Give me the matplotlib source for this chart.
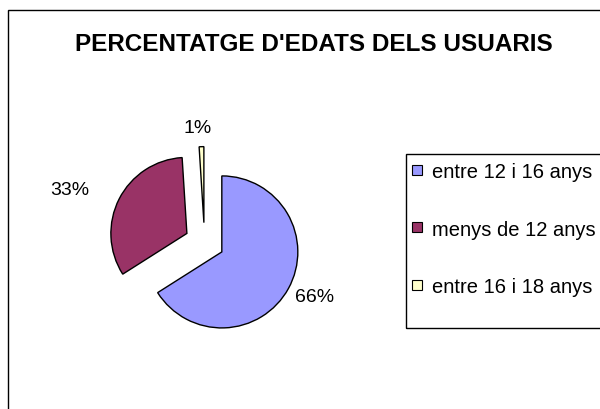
import matplotlib
matplotlib.use('Agg')
import matplotlib.pyplot as plt
import numpy as np
from matplotlib.lines import Line2D
from matplotlib.patches import Rectangle

plt.rcParams['font.family'] = ['Liberation Sans', 'DejaVu Sans']

TITLE = "PERCENTATGE D'EDATS DELS USUARIS"
categories = ['entre 12 i 16 anys', 'menys de 12 anys', 'entre 16 i 18 anys']
values = [66, 33, 1]
colors = ['#9999FF', '#993366', '#FFFFCC']

# % label placement relative to the (exploded) wedge apex:
# distance in radii, plus a small rotation (deg) off the wedge mid-angle
LABEL_DIST = [1.36, 1.64, 1.26]
LABEL_TURN = [3, 6.5, 2]

W, H = 600, 410
fig = plt.figure(figsize=(W / 100, H / 100), dpi=100)

# chart area border (runs off the right/bottom edge like the original)
fig.patches.append(Rectangle((8 / W, -0.1), 1.2, 1 - 11 / H + 0.1,
                             transform=fig.transFigure, fill=False,
                             edgecolor='black', linewidth=1))

fig.text(314 / W, 1 - 44.5 / H, TITLE, ha='center', va='center',
         fontsize=17.5, fontweight='bold')

# pie: centre at (204.5, 243.4) px, radius 76 px
cx, cy, r_px = 204.5, 243.4, 76
half = 2 * r_px
ax = fig.add_axes([(cx - half) / W, (H - cy - half) / H, 2 * half / W, 2 * half / H])

wedges, _ = ax.pie(values, colors=colors, startangle=90, counterclock=False,
                   explode=[0.26] * len(values), radius=1,
                   wedgeprops=dict(edgecolor='black', linewidth=1))
# pie() sets its own limits, so fix them afterwards
ax.set_xlim(-2, 2)
ax.set_ylim(-2, 2)
ax.set_aspect('equal')
ax.axis('off')

total = float(sum(values))
for w, v, d, turn in zip(wedges, values, LABEL_DIST, LABEL_TURN):
    ang = np.deg2rad((w.theta1 + w.theta2) / 2 + turn)
    x0, y0 = w.center
    ax.text(x0 + d * np.cos(ang), y0 + d * np.sin(ang), f'{v / total * 100:.0f}%',
            ha='center', va='center', fontsize=14)

# legend box (cut off at the right edge)
fig.patches.append(Rectangle((406 / W, 1 - 329 / H), 0.5, (329 - 155) / H,
                             transform=fig.transFigure, fill=False,
                             edgecolor='black', linewidth=1))
handles = [Line2D([], [], marker='s', linestyle='', markersize=6.5,
                  markerfacecolor=c, markeredgecolor='black', markeredgewidth=0.8)
           for c in colors]
fig.legend(handles, categories, loc='center left',
           bbox_to_anchor=(411 / W, 1 - 230 / H), frameon=False,
           fontsize=14.5, labelspacing=1.9, handlelength=0.6,
           handletextpad=0.45, borderpad=0, borderaxespad=0)

fig.savefig('out.png', dpi=100)
